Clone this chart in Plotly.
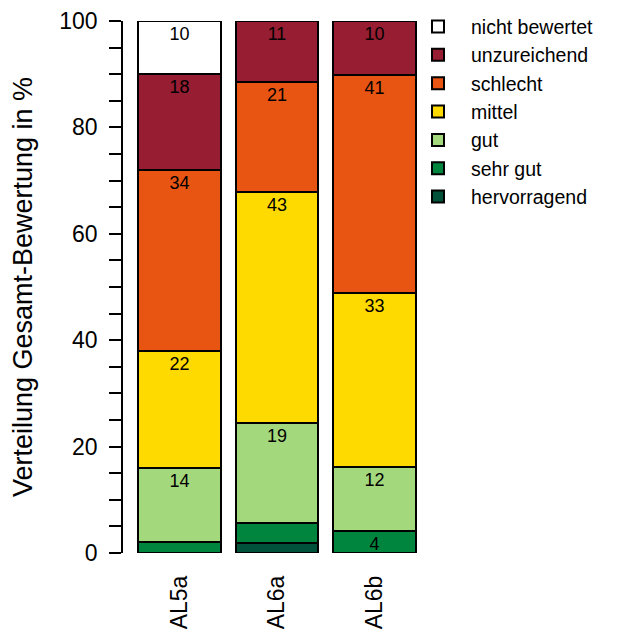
import plotly.graph_objects as go

categories = ["AL5a", "AL6a", "AL6b"]

hervorragend = [0.0, 1.9, 0.0]
sehr_gut = [2.0, 3.7, 4.2]
gut = [14.0, 18.9, 12.0]
mittel = [22.0, 43.4, 32.7]
schlecht = [34.0, 20.7, 41.0]
unzureichend = [18.0, 11.4, 10.1]
nicht_bewertet = [10.0, 0.0, 0.0]

series_names = ["hervorragend", "sehr gut", "gut", "mittel",
                "schlecht", "unzureichend", "nicht bewertet"]
series_values = [hervorragend, sehr_gut, gut, mittel,
                 schlecht, unzureichend, nicht_bewertet]
colors = ["#00533A", "#00853F", "#A4D87C", "#FFDA00",
          "#E85412", "#961D32", "#FFFFFF"]

y_tick_vals = [0, 20, 40, 60, 80, 100]
y_title = "Verteilung Gesamt-Bewertung in %"

FONT = "Arial, Liberation Sans, sans-serif"

fig = go.Figure()
for name, vals, col in zip(series_names, series_values, colors):
    labels = [str(int(round(v))) if v >= 4 else "" for v in vals]
    fig.add_trace(go.Bar(
        name=name,
        x=categories,
        y=vals,
        text=labels,
        textposition="inside",
        insidetextanchor="end",
        textangle=0,
        constraintext="none",
        textfont=dict(color="black", size=18, family=FONT),
        marker=dict(color=col, line=dict(color="black", width=2)),
    ))

W, H = 632, 635
OFF = 8  # page body offset
ml, mr = 40, 10
pw = W - ml - mr
mt = 20.7 - OFF
mb = H - (553 - OFF)
ph = H - mt - mb

fig.update_layout(
    width=W, height=H,
    barmode="stack",
    bargap=0.15,
    plot_bgcolor="white",
    paper_bgcolor="white",
    font=dict(family=FONT, color="black"),
    margin=dict(l=ml, r=mr, t=mt, b=mb, autoexpand=False),
    showlegend=True,
    legend=dict(
        traceorder="reversed",
        x=(397 - ml) / pw, xanchor="left",
        y=1 + (mt + 1) / ph, yanchor="top",
        itemwidth=56,
        font=dict(size=19.5, family=FONT),
        bgcolor="rgba(0,0,0,0)",
        borderwidth=0,
    ),
    xaxis=dict(
        domain=[(130.75 - OFF - ml) / pw, (423.25 - OFF - ml) / pw],
        range=[-0.5, 2.5],
        automargin=False,
        showline=False,
        showgrid=False,
        zeroline=False,
        ticks="",
        tickangle=-90,
        tickfont=dict(size=23, family=FONT),
        ticklabelstandoff=17,
    ),
    yaxis=dict(
        range=[0, 100],
        anchor="free",
        position=(122 - OFF - ml) / pw,
        automargin=False,
        showline=True,
        linecolor="black",
        linewidth=1.5,
        showgrid=False,
        zeroline=False,
        tickvals=y_tick_vals,
        ticks="outside",
        ticklen=12,
        tickwidth=1.5,
        tickcolor="black",
        tickfont=dict(size=23, family=FONT),
        ticklabelstandoff=7,
        minor=dict(dtick=5, ticks="outside", ticklen=12,
                   tickwidth=1.5, tickcolor="black"),
        title=dict(text=y_title, font=dict(size=27, family=FONT), standoff=18),
    ),
)

fig.write_html("out.html")
